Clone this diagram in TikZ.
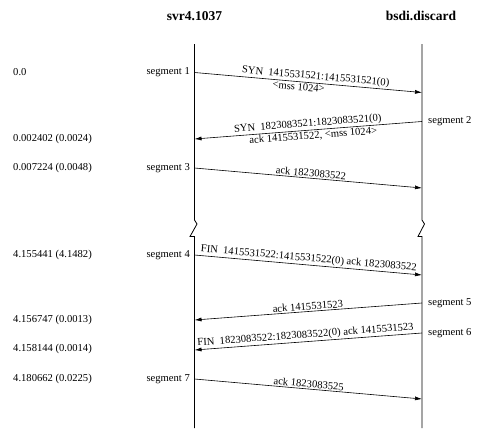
\documentclass[tikz,border=0pt]{standalone}
\usepackage{fontspec}
\setmainfont{Liberation Serif}
\usetikzlibrary{arrows.meta}
\begin{document}
\begin{tikzpicture}[x=1pt,y=-1pt,
  life/.style={line width=0.8pt},
  msg/.style={line width=0.6pt,-{Latex[length=7pt,width=4pt]}},
  lbl/.style={font=\fontsize{10.6}{12}\selectfont,inner sep=1.2pt},
  seglbl/.style={font=\fontsize{10.6}{12}\selectfont,inner sep=0pt},
  timelbl/.style={font=\fontsize{10.6}{12}\selectfont,inner sep=0pt,anchor=west},
  head/.style={font=\fontsize{13.5}{15}\selectfont\bfseries,inner sep=0pt}]
\useasboundingbox (0,0) rectangle (488,442);
% headers
\node[head] (hA) at (194.5,16) {svr4.1037};
\node[head] (hB) at (421,16) {bsdi.discard};
% lifelines with break
\draw[life] (194.5,44) -- (194.5,220) -- (197,224) -- (190,236.5) -- (194.5,236.5) -- (194.5,428);
\draw[life] (422,44) -- (422,220) -- (424.5,224) -- (418,236.5) -- (422,236.5) -- (422,428);
% endpoints
\coordinate (s1a) at (194.5,72.5);  \coordinate (s1b) at (422,92.5);
\coordinate (s2a) at (422,121.5);   \coordinate (s2b) at (194.5,139);
\coordinate (s3a) at (194.5,168);   \coordinate (s3b) at (422,188);
\coordinate (s4a) at (194.5,255);   \coordinate (s4b) at (422,275);
\coordinate (s5a) at (422,303);     \coordinate (s5b) at (194.5,320);
\coordinate (s6a) at (422,333);     \coordinate (s6b) at (194.5,350);
\coordinate (s7a) at (194.5,379);   \coordinate (s7b) at (422,399);
% messages
\draw[msg] (s1a) -- node[lbl,above,sloped,pos=0.53] (m1u) {SYN\ \ 1415531521:1415531521(0)}
                    node[lbl,below,sloped,pos=0.46] (m1l) {<mss 1024>} (s1b);
\draw[msg] (s2a) -- node[lbl,above,sloped,pos=0.50] (m2u) {SYN\ \ 1823083521:1823083521(0)}
                    node[lbl,below,sloped,pos=0.48] (m2l) {ack 1415531522, <mss 1024>} (s2b);
\draw[msg] (s3a) -- node[lbl,above,sloped,pos=0.51] (m3) {ack 1823083522} (s3b);
\draw[msg] (s4a) -- node[lbl,above,sloped,pos=0.5] (m4) {FIN\ \ 1415531522:1415531522(0) ack 1823083522} (s4b);
\draw[msg] (s5a) -- node[lbl,above,sloped,pos=0.5] (m5) {ack 1415531523} (s5b);
\draw[msg] (s6a) -- node[lbl,above,sloped,pos=0.51] (m6) {FIN\ \ 1823083522:1823083522(0) ack 1415531523} (s6b);
\draw[msg] (s7a) -- node[lbl,above,sloped,pos=0.5] (m7) {ack 1823083525} (s7b);
% segment labels
\node[seglbl,anchor=east] (g1) at (190,72) {segment 1};
\node[seglbl,anchor=west] (g2) at (428,121.5) {segment 2};
\node[seglbl,anchor=east] (g3) at (190,168) {segment 3};
\node[seglbl,anchor=east] (g4) at (190,255) {segment 4};
\node[seglbl,anchor=west] (g5) at (428,303) {segment 5};
\node[seglbl,anchor=west] (g6) at (428,333) {segment 6};
\node[seglbl,anchor=east] (g7) at (190,379) {segment 7};
% time labels
\node[timelbl] (t1) at (13,72) {0.0};
\node[timelbl] (t2) at (13,139) {0.002402 (0.0024)};
\node[timelbl] (t3) at (13,168) {0.007224 (0.0048)};
\node[timelbl] (t4) at (13,255) {4.155441 (4.1482)};
\node[timelbl] (t5) at (13,320) {4.156747 (0.0013)};
\node[timelbl] (t6) at (13,349) {4.158144 (0.0014)};
\node[timelbl] (t7) at (13,379) {4.180662 (0.0225)};
\end{tikzpicture}
\end{document}
